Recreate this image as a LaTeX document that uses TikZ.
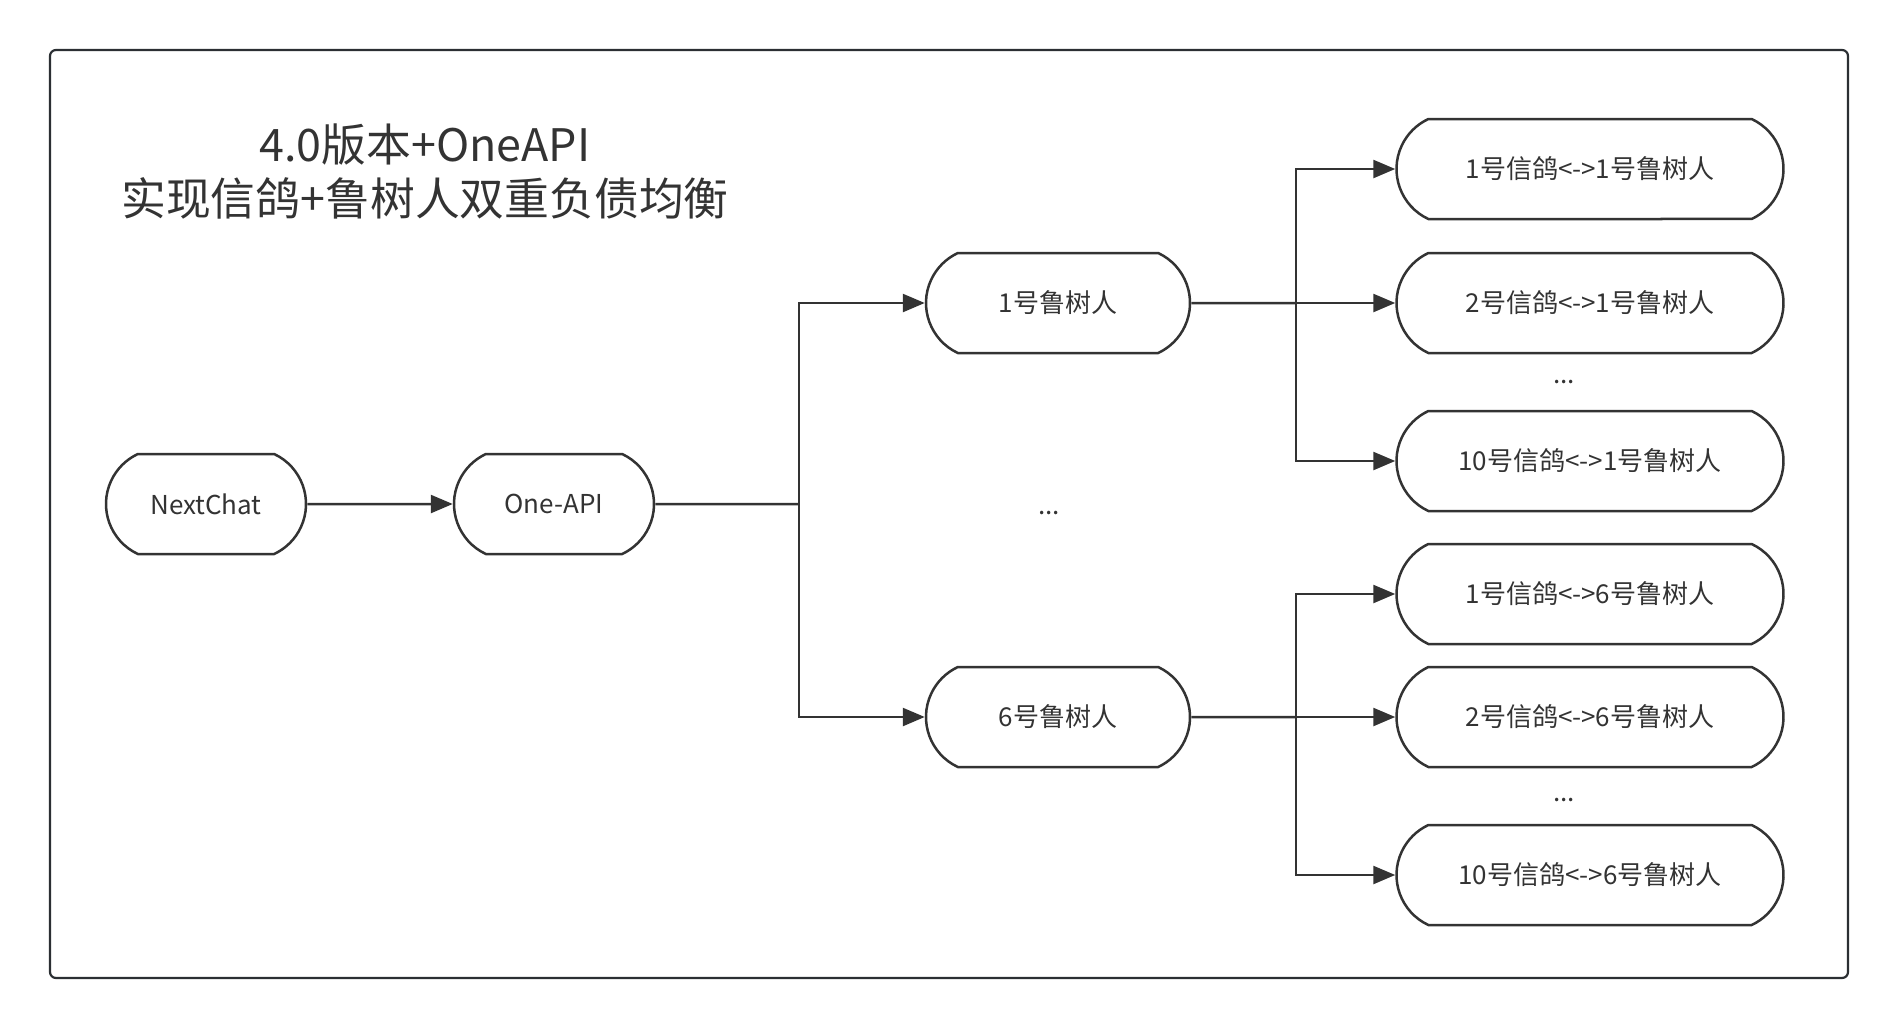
\documentclass[tikz,border=0pt]{standalone}
\usepackage{fontspec}
\setmainfont{Noto Sans CJK SC}
\usetikzlibrary{shapes.misc,arrows.meta}
\definecolor{ink}{HTML}{333333}
\definecolor{edge}{HTML}{2B2F33}

\begin{document}
\begin{tikzpicture}[x=1pt, y=-1pt, main/.style = {draw=ink, line width=2.5pt, rounded rectangle, rounded rectangle arc length=130, minimum height=100pt, inner sep=0pt, text=ink, font=\fontsize{26}{30}\selectfont}, link/.style = {draw=ink, line width=2.5pt, -{Triangle[length=22pt,width=18pt]}}, dots/.style = {text=ink, font=\fontsize{26}{30}\selectfont}]
    \useasboundingbox (0,0) rectangle (1898,1028);
    \draw[edge, line width=2.2pt, rounded corners=6pt] (50,50) rectangle (1848,978);
    \node[text=ink, align=center, font=\fontsize{44.8}{54}\selectfont] (title) at (425,171) {4.0版本+OneAPI\\实现信鸽+鲁树人双重负债均衡};
    % left side
    \node[main, minimum width=200pt] (chat) at (206,504) {NextChat};
    \node[main, minimum width=200pt] (api) at (554,504) {One-API};
    \node[main, minimum width=264pt] (r1) at (1058,303) {1号鲁树人};
    \node[main, minimum width=264pt] (r6) at (1058,717) {6号鲁树人};
    \node[dots] (rdots) at (1049,513) {...};
    % right side
    \node[main, minimum width=387pt] (a1) at (1590,169) {1号信鸽<->1号鲁树人};
    \node[main, minimum width=387pt] (a2) at (1590,303) {2号信鸽<->1号鲁树人};
    \node[dots] (adots) at (1564,382) {...};
    \node[main, minimum width=387pt] (a3) at (1590,461) {10号信鸽<->1号鲁树人};
    \node[main, minimum width=387pt] (b1) at (1590,594) {1号信鸽<->6号鲁树人};
    \node[main, minimum width=387pt] (b2) at (1590,717) {2号信鸽<->6号鲁树人};
    \node[dots] (bdots) at (1564,800) {...};
    \node[main, minimum width=387pt] (b3) at (1590,875) {10号信鸽<->6号鲁树人};
    \coordinate (split) at (799,504);
    \coordinate (fork1) at (1296,303);
    \coordinate (fork6) at (1296,717);
    \draw[link] (chat) -- (api);
    \draw[draw=ink, line width=2.5pt] (api) -- (split);
    \draw[link] (split) |- (r1);
    \draw[link] (split) |- (r6);
    \draw[draw=ink, line width=2.5pt] (r1) -- (fork1);
    \draw[link] (fork1) |- (a1);
    \draw[link] (fork1) -- (a2);
    \draw[link] (fork1) |- (a3);
    \draw[draw=ink, line width=2.5pt] (r6) -- (fork6);
    \draw[link] (fork6) |- (b1);
    \draw[link] (fork6) -- (b2);
    \draw[link] (fork6) |- (b3);
\end{tikzpicture}
\end{document}
